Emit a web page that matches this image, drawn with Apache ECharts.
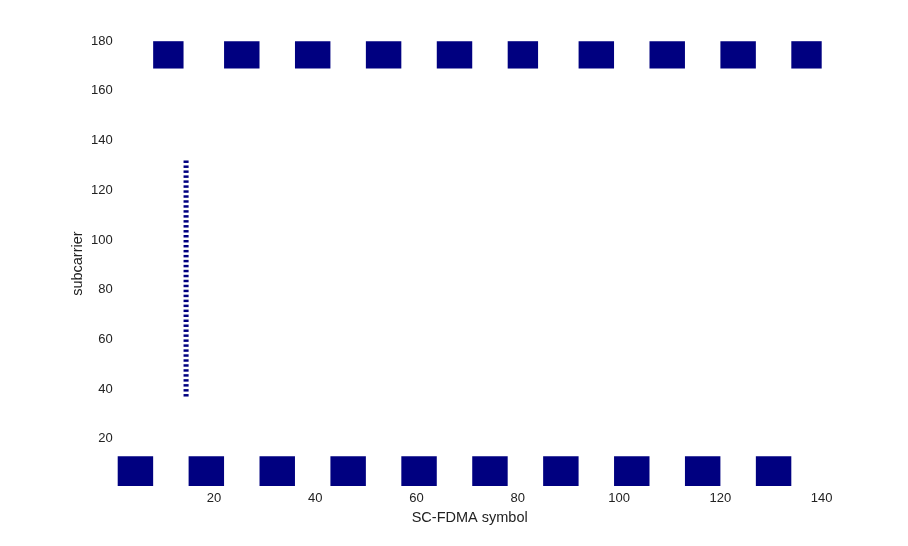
<!DOCTYPE html>
<html>
<head>
<meta charset="utf-8">
<script src="https://cdn.jsdelivr.net/npm/echarts@6/dist/echarts.min.js"></script>
<style>
html,body{margin:0;padding:0;background:#fff;}
#chart{width:908px;height:546px;}
</style>
</head>
<body>
<div id="chart"></div>
<script>
// Grid extent (pcolor-style: cells span [i, i+1])
const symbolRange = [1, 140];
const subcarrierRange = [1, 180];
const xTickLabels = [20, 40, 60, 80, 100, 120, 140];
const yTickLabels = [20, 40, 60, 80, 100, 120, 140, 160, 180];

// Lower PUCCH region: symbol spans and subcarrier span
const lowSymbolSpans = [[1,8],[15,22],[29,36],[43,50],[57,64],[71,78],[85,92],[99,106],[113,120],[127,134]];
const lowSubcarrierSpan = [1, 13];

// Upper PUCCH region
const highSymbolSpans = [[8,14],[22,29],[36,43],[50,57],[64,71],[78,84],[92,99],[106,113],[120,127],[134,140]];
const highSubcarrierSpan = [169, 180];

// SRS comb (every other subcarrier) in one symbol
const srsSymbolSpan = [14, 15];
const srsSubcarriers = [37,39,41,43,45,47,49,51,53,55,57,59,61,63,65,67,69,71,73,75,77,79,81,83,
                        85,87,89,91,93,95,97,99,101,103,105,107,109,111,113,115,117,119,121,123,125,127,129,131];

const cells = [];
lowSymbolSpans.forEach(s => cells.push([s[0], s[1], lowSubcarrierSpan[0], lowSubcarrierSpan[1]]));
highSymbolSpans.forEach(s => cells.push([s[0], s[1], highSubcarrierSpan[0], highSubcarrierSpan[1]]));
srsSubcarriers.forEach(k => cells.push([srsSymbolSpan[0], srsSymbolSpan[1], k, k + 1]));

const chart = echarts.init(document.getElementById('chart'));
const font = "'Liberation Sans', Arial, sans-serif";
chart.setOption({
  backgroundColor: '#fff',
  animation: false,
  grid: { left: 117.7, right: 86.3, top: 41.2, bottom: 60 },
  xAxis: {
    type: 'value', min: symbolRange[0], max: symbolRange[1],
    name: 'SC-FDMA symbol', nameLocation: 'middle', nameGap: 24, nameMoveOverlap: false,
    nameTextStyle: { fontFamily: font, fontSize: 14.5, color: '#222' },
    axisLine: { show: false }, axisTick: { show: false }, splitLine: { show: false },
    axisLabel: { customValues: xTickLabels, fontFamily: font, fontSize: 13, color: '#222', margin: 6 }
  },
  yAxis: {
    type: 'value', min: subcarrierRange[0], max: subcarrierRange[1],
    name: 'subcarrier', nameLocation: 'middle', nameGap: 32, nameMoveOverlap: false,
    nameTextStyle: { fontFamily: font, fontSize: 14.5, color: '#222' },
    axisLine: { show: false }, axisTick: { show: false }, splitLine: { show: false },
    axisLabel: { customValues: yTickLabels, fontFamily: font, fontSize: 13, color: '#222', margin: 5 }
  },
  series: [{
    type: 'custom',
    data: cells,
    renderItem: function (params, api) {
      const p0 = api.coord([api.value(0), api.value(2)]);
      const p1 = api.coord([api.value(1), api.value(3)]);
      return {
        type: 'rect',
        shape: { x: p0[0], y: p1[1], width: p1[0] - p0[0], height: p0[1] - p1[1] },
        style: { fill: '#000080' }
      };
    }
  }]
});
</script>
</body>
</html>
